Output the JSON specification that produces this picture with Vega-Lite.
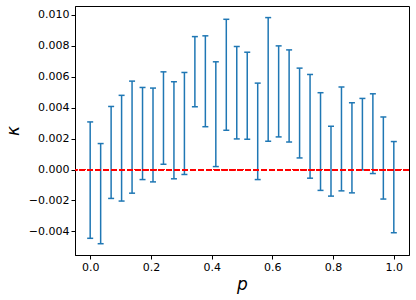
{
  "$schema": "https://vega.github.io/schema/vega-lite/v6.json",
  "autosize": "none",
  "width": 334,
  "height": 249,
  "padding": {"left": 75, "top": 6, "right": 7, "bottom": 45},
  "config": {
    "view": {"stroke": "#000000", "strokeWidth": 1},
    "font": "DejaVu Sans",
    "axis": {
      "grid": false,
      "domainColor": "#000000",
      "tickColor": "#000000",
      "tickSize": 4,
      "labelFont": "DejaVu Sans",
      "labelFontSize": 11,
      "labelColor": "#000000",
      "labelPadding": 2,
      "titleFont": "DejaVu Sans",
      "titleFontSize": 17,
      "titleFontWeight": "normal",
      "titleFontStyle": "italic",
      "titleColor": "#000000"
    }
  },
  "data": {
    "values": [
      {"p": 0.0, "lo": -0.00445, "hi": 0.00308},
      {"p": 0.03448, "lo": -0.0048, "hi": 0.00168},
      {"p": 0.06897, "lo": -0.00187, "hi": 0.00408},
      {"p": 0.10345, "lo": -0.00204, "hi": 0.0048},
      {"p": 0.13793, "lo": -0.00153, "hi": 0.00572},
      {"p": 0.17241, "lo": -0.00065, "hi": 0.00531},
      {"p": 0.2069, "lo": -0.0008, "hi": 0.00527},
      {"p": 0.24138, "lo": 0.00034, "hi": 0.00632},
      {"p": 0.27586, "lo": -0.0006, "hi": 0.00568},
      {"p": 0.31034, "lo": -0.00032, "hi": 0.00628},
      {"p": 0.34483, "lo": 0.00406, "hi": 0.0086},
      {"p": 0.37931, "lo": 0.00277, "hi": 0.00865},
      {"p": 0.41379, "lo": 0.00019, "hi": 0.00697},
      {"p": 0.44828, "lo": 0.00254, "hi": 0.00972},
      {"p": 0.48276, "lo": 0.00198, "hi": 0.00796},
      {"p": 0.51724, "lo": 0.00196, "hi": 0.00759},
      {"p": 0.55172, "lo": -0.00065, "hi": 0.00559},
      {"p": 0.58621, "lo": 0.00183, "hi": 0.00983},
      {"p": 0.62069, "lo": 0.00211, "hi": 0.008},
      {"p": 0.65517, "lo": 0.00178, "hi": 0.00774},
      {"p": 0.68966, "lo": 0.00075, "hi": 0.00656},
      {"p": 0.72414, "lo": -0.00056, "hi": 0.00615},
      {"p": 0.75862, "lo": -0.00135, "hi": 0.00497},
      {"p": 0.7931, "lo": -0.00172, "hi": 0.0028},
      {"p": 0.82759, "lo": -0.00138, "hi": 0.00534},
      {"p": 0.86207, "lo": -0.00151, "hi": 0.00432},
      {"p": 0.89655, "lo": -0.00002, "hi": 0.0046},
      {"p": 0.93103, "lo": -0.00026, "hi": 0.0049},
      {"p": 0.96552, "lo": -0.00191, "hi": 0.0034},
      {"p": 1.0, "lo": -0.00409, "hi": 0.00181}
    ]
  },
  "layer": [
    {
      "mark": {"type": "rule", "color": "#1f77b4", "strokeWidth": 1.5},
      "encoding": {
        "x": {"field": "p", "type": "quantitative", "scale": {"domain": [-0.05, 1.05], "nice": false, "zero": false},
              "axis": {"values": [0, 0.2, 0.4, 0.6, 0.8, 1.0], "format": ".1f", "title": "p", "titlePadding": 4, "labelOverlap": false}},
        "y": {"field": "lo", "type": "quantitative", "scale": {"domain": [-0.00553, 0.01058], "nice": false, "zero": false},
              "axis": {"values": [-0.004, -0.002, 0, 0.002, 0.004, 0.006, 0.008, 0.01], "tickCount": 8, "format": ".3f", "title": "κ", "titleAngle": -90, "titlePadding": 6, "labelOverlap": false, "labelFlush": false}},
        "y2": {"field": "hi"}
      }
    },
    {
      "mark": {"type": "tick", "orient": "horizontal", "color": "#1f77b4", "size": 6, "thickness": 1.5, "opacity": 1},
      "encoding": {
        "x": {"field": "p", "type": "quantitative"},
        "y": {"field": "lo", "type": "quantitative"}
      }
    },
    {
      "mark": {"type": "tick", "orient": "horizontal", "color": "#1f77b4", "size": 6, "thickness": 1.5, "opacity": 1},
      "encoding": {
        "x": {"field": "p", "type": "quantitative"},
        "y": {"field": "hi", "type": "quantitative"}
      }
    },
    {
      "mark": {"type": "rule", "color": "#ff0000", "strokeWidth": 1.3, "strokeDash": [5.5, 2.4]},
      "encoding": {"y": {"datum": 0}}
    }
  ]
}
